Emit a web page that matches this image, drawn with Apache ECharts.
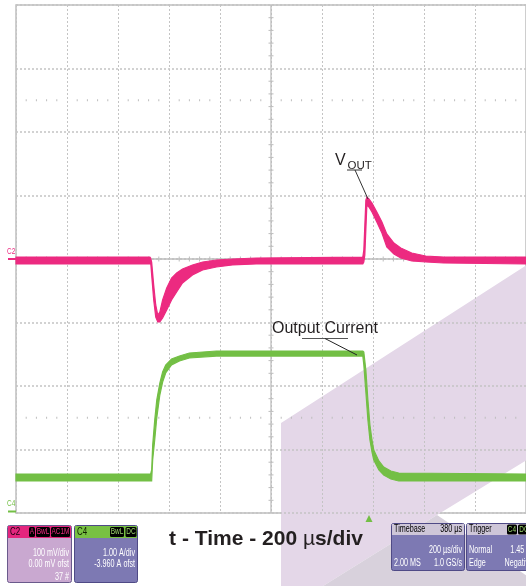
<!DOCTYPE html>
<html><head><meta charset="utf-8">
<script src="https://cdn.jsdelivr.net/npm/echarts@6/dist/echarts.min.js"></script>
<style>html,body{margin:0;padding:0;background:#fff}#c{width:526px;height:586px}</style>
</head><body><div id="c"></div>
<script>
// ---- Scope settings ----
const timeMin = -1380, timeMax = 620;        // µs relative to trigger, 200 µs/div, delay 380 µs
const c2Min = -400, c2Max = 400;             // mV, 100 mV/div, 0.00 mV offset
const c4Min = -0.04, c4Max = 7.96;           // A, 1.00 A/div, -3.960 A offset
const divX = 10, divY = 8;

// ---- C2: VOUT (AC coupled), envelope of the noisy trace, mV ----
const c2Time = [-1380, -855, -852, -848, -840, -832, -824, -816, -805, -789, -770, -750, -727, -688, -648, -594, -531, -438,
                -20, -16, -12, -8, -4, 4, 16, 35, 55, 74, 102, 129, 172, 227, 297, 620];
const c2Hi = [3.1, 3.1, 1.6, -4.7, -40.9, -72.4, -88.2, -83.5, -64.6, -45.7, -29.9, -22.0, -15.7, -9.4, -4.7, -1.6, 0, 1.6,
              3.1, 14.2, 53.5, 92.9, 97.6, 94.5, 88.2, 74.0, 58.3, 39.4, 25.2, 17.3, 9.4, 4.7, 3.1, 3.1];
const c2Lo = [-7.9, -7.9, -4.7, -25.2, -64.6, -91.3, -99.2, -99.2, -92.9, -80.3, -64.6, -52.0, -37.8, -25.2, -17.3, -12.6, -9.4, -7.9,
              -7.9, -4.7, 6.3, 45.7, 85.0, 81.9, 74.0, 58.3, 40.9, 18.9, 7.9, 1.6, -3.1, -4.7, -6.3, -7.9];

// ---- C4: Output current, envelope, A ----
const c4Time = [-1380, -852, -848, -844, -836, -828, -816, -805, -793, -770, -739, -700, -594,
                -20, -16, -8, 0, 8, 16, 23, 43, 62, 90, 121, 620];
const c4Hi = [0.574, 0.574, 0.637, 1.031, 1.425, 1.740, 2.007, 2.180, 2.291, 2.385, 2.432, 2.480, 2.511,
              2.511, 2.495, 2.212, 1.740, 1.346, 1.110, 0.952, 0.779, 0.684, 0.621, 0.590, 0.574];
const c4Lo = [0.464, 0.464, 0.464, 0.795, 1.110, 1.456, 1.818, 2.023, 2.165, 2.291, 2.354, 2.401, 2.432,
              2.432, 2.291, 1.866, 1.425, 1.110, 0.921, 0.795, 0.637, 0.558, 0.495, 0.464, 0.464];

// ---- Texts ----
const titleText = ['t - Time - 200 ', 'µ', 's/div'];
const c2Info = ['100 mV/div', '0.00 mV ofst', '37 #'];
const c4Info = ['1.00 A/div', '-3.960 A ofst'];
const tbInfo = ['Timebase', '380 µs', '200 µs/div', '2.00 MS', '1.0 GS/s'];
const trInfo = ['Trigger', 'Normal', '1.45 A', 'Edge', 'Negative'];

const PINK = '#EC2A80', GREEN = '#73BF45', GRIDC = '#C4C4C4', AXC = '#BDBDBD';
const FONT = "'Liberation Sans', Arial, sans-serif";
const NARROW = "'Liberation Sans', Arial, sans-serif";

function bandSeries(t, hi, lo, color, yIdx) {
  return {
    type: 'custom', xAxisIndex: 1, yAxisIndex: yIdx, z: 5, silent: true,
    data: [[t[0], hi[0]]],
    renderItem(params, api) {
      const pts = [];
      for (let i = 0; i < t.length; i++) pts.push(api.coord([t[i], hi[i]]));
      for (let i = t.length - 1; i >= 0; i--) pts.push(api.coord([t[i], lo[i]]));
      return { type: 'polygon', shape: { points: pts }, style: { fill: color, stroke: color, lineWidth: 1.2 } };
    }
  };
}

function graticule(params, api) {
  const ch = [];
  const ln = (a, b, w) => ch.push({ type: 'line', shape: { x1: a[0], y1: a[1], x2: b[0], y2: b[1] }, style: { stroke: AXC, lineWidth: w || 1 } });
  ln(api.coord([divX / 2, 0]), api.coord([divX / 2, divY]), 1.3);
  ln(api.coord([0, divY / 2]), api.coord([divX, divY / 2]), 1.3);
  for (let k = 1; k < divY * 5; k++) {
    if (k % 5 === 0) continue;
    const c = api.coord([divX / 2, k / 5]);
    ln([c[0] - 2.5, c[1]], [c[0] + 2.5, c[1]]);
  }
  for (let k = 1; k < divX * 5; k++) {
    if (k % 5 === 0) continue;
    const c = api.coord([k / 5, divY / 2]);
    ln([c[0], c[1] - 2.5], [c[0], c[1] + 2.5]);
    for (const yy of [1.5, 6.5]) {
      const d = api.coord([k / 5, yy]);
      ln([d[0], d[1] - 1], [d[0], d[1] + 1]);
    }
  }
  return { type: 'group', children: ch };
}

// background watermark (decoration, drawn under the graticule)
function watermark() {
  return { type: 'group', children: [
    { type: 'polygon', shape: { points: [[281, 423], [530, 263], [530, 458], [437, 515], [323, 586], [281, 586]] }, style: { fill: '#E4D7E8' } },
    { type: 'polygon', shape: { points: [[323, 586], [437, 515], [530, 578], [530, 586]] }, style: { fill: '#D8D1DC' } }
  ] };
}

function txt(x, y, s, opt, sx) {
  return { type: 'text', z: 60, silent: true, x, y, scaleX: sx || 1,
    style: Object.assign({ x: 0, y: 0, text: s, font: '10px ' + NARROW, fill: '#fff', textAlign: 'left', textVerticalAlign: 'middle' }, opt || {}) };
}
const SX = 0.72;
function info(x, y, s, opt) { return txt(x, y, s, opt, SX); }
function rect(x, y, w, h, fill, stroke, r) {
  return { type: 'rect', z: 55, silent: true, shape: { x, y, width: w, height: h, r: r || 0 },
    style: { fill, stroke: stroke || null, lineWidth: stroke ? 1 : 0 } };
}
function badge(x, w, y, s, color) {
  const t = info(x + w / 2, y + 5, s, { fill: color, textAlign: 'center', font: '9px ' + NARROW });
  t.z = 61;
  return [rect(x, y, w, 10, '#000', null, 1.5), t];
}

const graphics = [
  // channel markers
  { type: 'line', z: 50, shape: { x1: 8, y1: 259, x2: 16, y2: 259 }, style: { stroke: PINK, lineWidth: 2 } },
  txt(7, 251.5, 'C2', { fill: PINK, font: '9px ' + NARROW }, SX),
  { type: 'line', z: 50, shape: { x1: 8, y1: 511.5, x2: 16, y2: 511.5 }, style: { stroke: GREEN, lineWidth: 2 } },
  txt(7, 503.5, 'C4', { fill: GREEN, font: '9px ' + NARROW }, SX),
  // trigger marker
  { type: 'polygon', z: 50, shape: { points: [[369, 515], [365.5, 522], [372.5, 522]] }, style: { fill: GREEN } },
  // annotations
  txt(335, 160.5, 'V', { fill: '#231F20', font: '16px ' + FONT }),
  txt(347.5, 165.5, 'OUT', { fill: '#231F20', font: '11.5px ' + FONT }),
  { type: 'line', z: 50, shape: { x1: 347, y1: 170, x2: 362, y2: 170 }, style: { stroke: '#333', lineWidth: 1 } },
  { type: 'line', z: 50, shape: { x1: 355, y1: 170, x2: 368, y2: 199 }, style: { stroke: '#333', lineWidth: 1 } },
  txt(272, 328.5, 'Output Current', { fill: '#231F20', font: '16px ' + FONT }),
  { type: 'line', z: 50, shape: { x1: 302, y1: 338.5, x2: 348, y2: 338.5 }, style: { stroke: '#555', lineWidth: 1.2 } },
  { type: 'line', z: 50, shape: { x1: 325, y1: 338.5, x2: 357, y2: 355 }, style: { stroke: '#222', lineWidth: 1 } },
  // title
  { type: 'text', z: 60, style: { x: 266, y: 539, text: '{b|' + titleText[0] + '}{m|' + titleText[1] + '}{b|' + titleText[2] + '}',
      textAlign: 'center', textVerticalAlign: 'middle',
      rich: { b: { font: 'bold 21px ' + FONT, fill: '#231F20' }, m: { font: '21px ' + FONT, fill: '#231F20' } } } },
  // C2 box
  rect(7.5, 525.5, 64, 57, '#C9A8D0', '#6A5A8C', 2),
  rect(8, 526, 63, 12, '#E4267E'),
  info(10, 532, 'C2', { fill: '#1a0010', font: '11px ' + NARROW }),
  ...badge(29, 6, 527, 'A', PINK), ...badge(36, 14, 527, 'BwL', PINK), ...badge(51, 19, 527, 'AC1M', PINK),
  info(69, 553, c2Info[0], { textAlign: 'right' }),
  info(69, 564.5, c2Info[1], { textAlign: 'right' }),
  info(69, 577, c2Info[2], { textAlign: 'right' }),
  // C4 box
  rect(74.5, 525.5, 63, 57, '#7D79B3', '#4F4A86', 2),
  rect(75, 526, 62, 12, '#78C143'),
  info(77, 532, 'C4', { fill: '#102000', font: '11px ' + NARROW }),
  ...badge(110, 14, 527, 'BwL', '#9BD46C'), ...badge(125.5, 11, 527, 'DC', '#9BD46C'),
  info(135, 553, c4Info[0], { textAlign: 'right' }),
  info(135, 564.5, c4Info[1], { textAlign: 'right' }),
  // Timebase box
  rect(391.5, 523.5, 73, 47, '#7D79B3', '#4F4A86', 2),
  rect(392, 524, 72, 11, '#CEC6D8'),
  info(394, 529.5, tbInfo[0], { fill: '#000' }),
  info(462, 529.5, tbInfo[1], { fill: '#000', textAlign: 'right' }),
  info(462, 550, tbInfo[2], { textAlign: 'right' }),
  info(394, 563, tbInfo[3]),
  info(462, 563, tbInfo[4], { textAlign: 'right' }),
  // Trigger box
  rect(466.5, 523.5, 75, 47, '#7D79B3', '#4F4A86', 2),
  rect(467, 524, 74, 11, '#CEC6D8'),
  info(469, 529.5, trInfo[0], { fill: '#000' }),
  ...badge(507, 10, 524.5, 'C4', '#9BD46C'), ...badge(518, 12, 524.5, 'DC', '#9BD46C'),
  info(469, 550, trInfo[1]),
  info(531, 550, trInfo[2], { textAlign: 'right' }),
  info(469, 563, trInfo[3]),
  info(533, 563, trInfo[4], { textAlign: 'right' })
];

const chart = echarts.init(document.getElementById('c'), null, { renderer: 'canvas' });
const hiddenAxis = { axisLine: { show: false }, axisTick: { show: false }, axisLabel: { show: false } };
chart.setOption({
  animation: false,
  backgroundColor: '#fff',
  grid: { left: 16, top: 5, width: 512, height: 508, show: true, borderColor: '#BEBEBE', borderWidth: 1.5, backgroundColor: 'transparent' },
  xAxis: [
    Object.assign({ type: 'value', min: 0, max: divX, interval: 1, z: 1, splitLine: { show: true, lineStyle: { color: GRIDC, type: [2, 2], width: 1 } } }, hiddenAxis),
    { type: 'value', min: timeMin, max: timeMax, show: false }
  ],
  yAxis: [
    Object.assign({ type: 'value', min: 0, max: divY, interval: 1, z: 1, splitLine: { show: true, lineStyle: { color: GRIDC, type: [2, 2], width: 1.5 } } }, hiddenAxis),
    { type: 'value', min: c2Min, max: c2Max, show: false },
    { type: 'value', min: c4Min, max: c4Max, show: false }
  ],
  series: [
    { type: 'custom', xAxisIndex: 0, yAxisIndex: 0, z: 0, silent: true, clip: false, data: [[0, 0]], renderItem: watermark },
    { type: 'custom', xAxisIndex: 0, yAxisIndex: 0, z: 2, silent: true, data: [[divX / 2, divY / 2]], renderItem: graticule },
    bandSeries(c4Time, c4Hi, c4Lo, GREEN, 2),
    bandSeries(c2Time, c2Hi, c2Lo, PINK, 1)
  ],
  graphic: { elements: graphics }
});
</script></body></html>
